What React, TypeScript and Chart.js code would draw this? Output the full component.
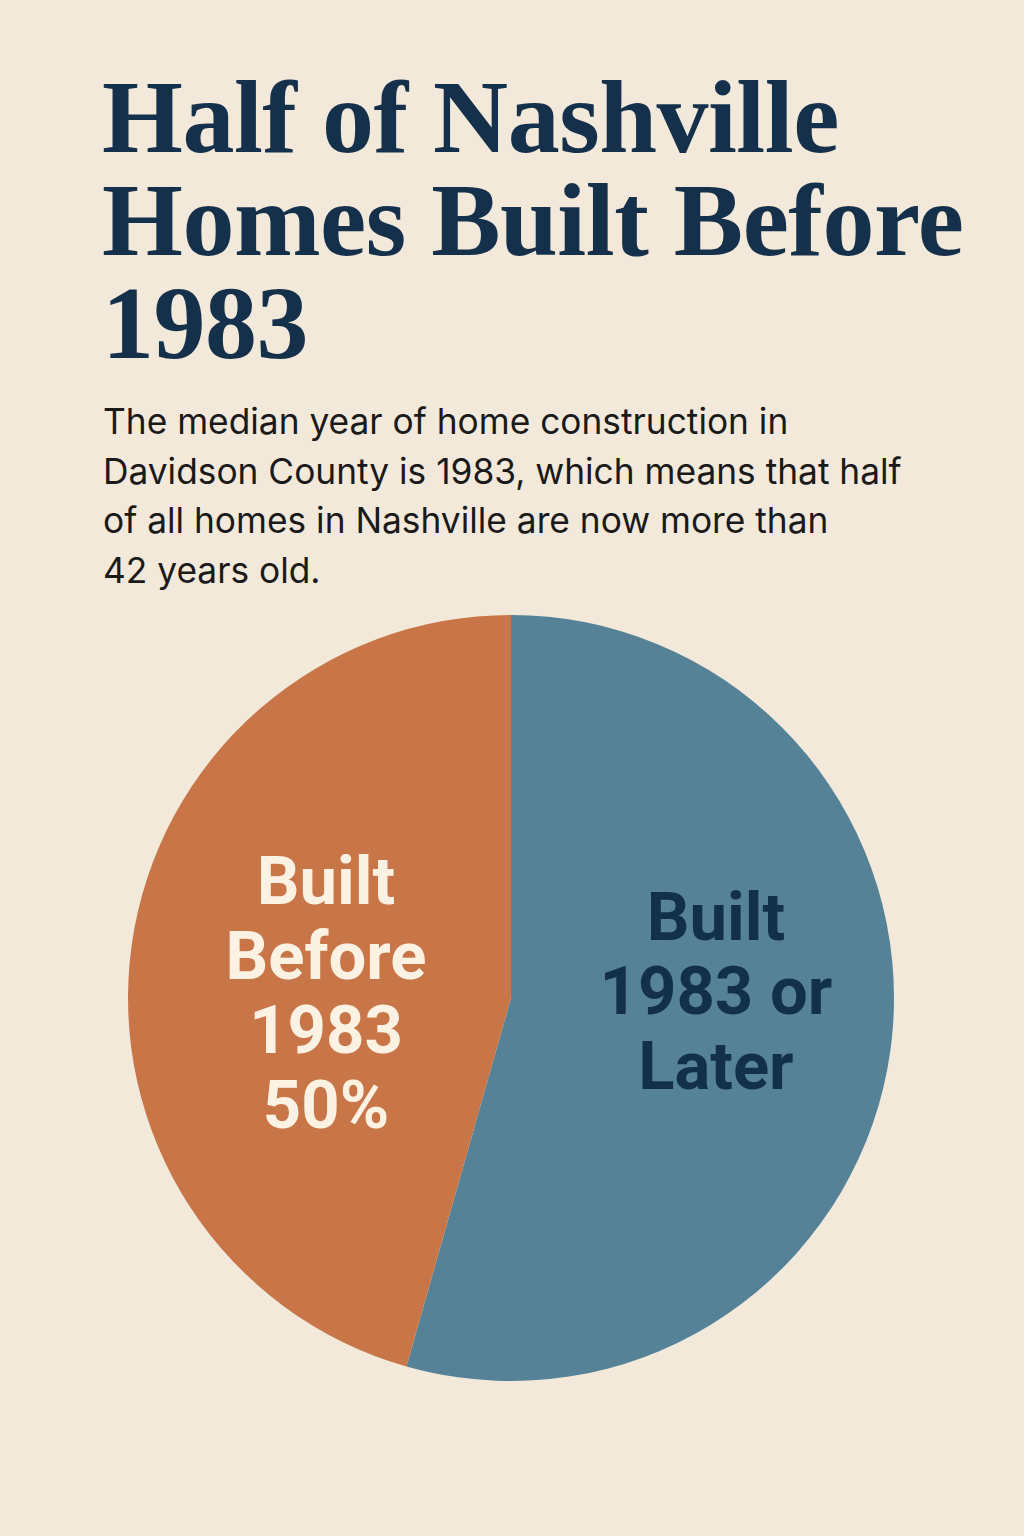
import React, { useEffect, useRef } from "react";
import { Chart, registerables } from "chart.js";

Chart.register(...registerables);

const categories = ["Built 1983 or Later", "Built Before 1983"];
const shares = [54.4, 45.6];
const sliceColors = ["#568298", "#C87548"];
const sliceLabelLines = [
  ["Built", "1983 or", "Later"],
  ["Built", "Before", "1983", "50%"],
];
const sliceLabelColors = ["#13304A", "#FBF2E3"];

const titleLines = ["Half of Nashville", "Homes Built Before", "1983"];
const subtitleLines = [
  "The median year of home construction in",
  "Davidson County is 1983, which means that half",
  "of all homes in Nashville are now more than",
  "42 years old.",
];

const BG = "#F3E9DB";

// label anchors expressed in units of the pie radius, relative to its centre
const labelAnchors = [
  { fx: 0.535, fy: -0.151, lh: 0.194 },
  { fx: -0.483, fy: -0.245, lh: 0.1945 },
];

const sliceLabelPlugin = {
  id: "sliceLabels",
  afterDatasetsDraw(chart: any) {
    const meta = chart.getDatasetMeta(0);
    const ctx = chart.ctx;
    meta.data.forEach((arc: any, i: number) => {
      const p = arc.getProps(["x", "y", "outerRadius"], true);
      const r = p.outerRadius;
      const a = labelAnchors[i];
      ctx.save();
      ctx.fillStyle = sliceLabelColors[i];
      ctx.font = `700 ${Math.round(r * 0.176)}px Roboto, "Liberation Sans", sans-serif`;
      ctx.textAlign = "center";
      ctx.textBaseline = "alphabetic";
      sliceLabelLines[i].forEach((line, k) => {
        ctx.fillText(line, p.x + a.fx * r, p.y + (a.fy + k * a.lh) * r);
      });
      ctx.restore();
    });
  },
};

export default function App() {
  const canvasRef = useRef<HTMLCanvasElement | null>(null);

  useEffect(() => {
    document.body.style.margin = "0";
    document.body.style.background = BG;
    const canvas = canvasRef.current;
    if (!canvas) return;
    const chart = new Chart(canvas, {
      type: "pie",
      data: {
        labels: categories,
        datasets: [
          {
            data: shares,
            backgroundColor: sliceColors,
            borderWidth: 0,
            radius: 383,
          } as any,
        ],
      },
      options: {
        responsive: false,
        animation: false,
        devicePixelRatio: 1,
        layout: { padding: { left: 0, right: 2, top: 0, bottom: 0 } },
        plugins: {
          legend: { display: false },
          tooltip: { enabled: false },
          title: { display: false },
        },
      },
      plugins: [sliceLabelPlugin],
    });
    return () => chart.destroy();
  }, []);

  return (
    <div
      style={{
        position: "absolute",
        left: 0,
        top: 0,
        width: 1024,
        height: 1536,
        background: BG,
        overflow: "hidden",
      }}
    >
      <div
        style={{
          position: "absolute",
          left: 102,
          top: 65,
          fontFamily: '"Liberation Serif", "Times New Roman", serif',
          fontWeight: 700,
          fontSize: 104,
          lineHeight: "103px",
          color: "#14304A",
          whiteSpace: "nowrap",
          letterSpacing: "-0.5px",
        }}
      >
        {titleLines.map((l, i) => (
          <div key={i}>{l}</div>
        ))}
      </div>
      <div
        style={{
          position: "absolute",
          left: 103,
          top: 397,
          fontFamily: 'Inter, Roboto, "Liberation Sans", sans-serif',
          fontWeight: 400,
          fontSize: 35.3,
          lineHeight: "49.5px",
          color: "#1A1A1A",
          whiteSpace: "nowrap",
        }}
      >
        {subtitleLines.map((l, i) => (
          <div key={i}>{l}</div>
        ))}
      </div>
      <canvas
        ref={canvasRef}
        width={1024}
        height={796}
        style={{ position: "absolute", left: 0, top: 600, width: 1024, height: 796 }}
      />
    </div>
  );
}
